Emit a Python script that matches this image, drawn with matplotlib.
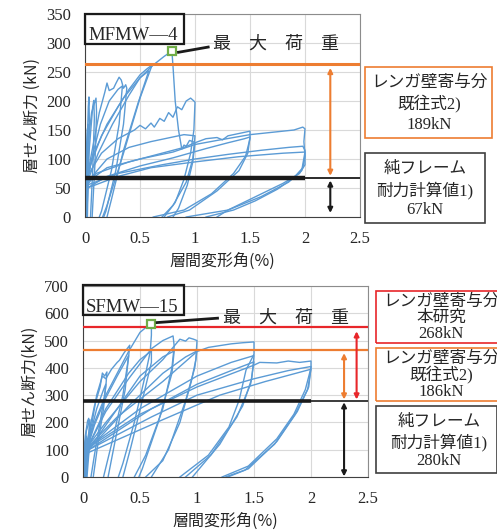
import matplotlib
matplotlib.use("Agg")
import matplotlib.pyplot as plt
from matplotlib.patches import Rectangle

# ---- data: MFMW-4 (top) ----
mf_name = "MFMW\u20144"
mf_frame = 67        # 純フレーム耐力計算値
mf_wall = 189        # レンガ壁寄与分 (既往式)
mf_total = 263       # drawn level of frame + wall
mf_peak = (0.79, 286)
mf_xticks = [0, 0.5, 1, 1.5, 2, 2.5]
mf_yticks = [0, 50, 100, 150, 200, 250, 300, 350]

mf_small = [
    [(-0.01, -60), (0.0, 0), (0.015, 90), (0.03, 190), (0.036, 207), (0.04, 160), (0.03, 60), (0.015, 0), (0.0, -50)],
    [(-0.01, -40), (0.01, 40), (0.04, 120), (0.07, 190), (0.08, 201), (0.085, 170), (0.07, 80), (0.05, 0), (0.03, -50)],
    [(0.0, -40), (0.01, 60), (0.03, 130), (0.06, 180), (0.1, 205), (0.105, 180), (0.09, 90), (0.065, 0)],
    [(0.0, -30), (0.005, 50), (0.01, 100), (0.02, 150), (0.03, 160), (0.025, 90), (0.015, 20), (0.01, -30)],
    [(0.0, -30), (0.004, 60), (0.012, 110), (0.02, 120), (0.016, 60), (0.008, 0)],
    [(0.002, -20), (0.006, 40), (0.01, 80), (0.016, 115), (0.022, 100), (0.018, 40), (0.012, -20)],
    [(0.005, -20), (0.012, 50), (0.02, 95), (0.028, 112), (0.03, 80), (0.024, 20), (0.02, -20)],
    [(0.001, -20), (0.003, 30), (0.008, 70), (0.014, 90), (0.012, 40), (0.006, -20)],
]
mf_loop03 = [
    [(-0.01, -60), (0.005, 40), (0.03, 80), (0.08, 130), (0.13, 180), (0.18, 215), (0.2, 231), (0.22, 218), (0.26, 222),
     (0.28, 230), (0.31, 241), (0.33, 236), (0.35, 222), (0.37, 228), (0.38, 222), (0.35, 160), (0.28, 80), (0.19, 10),
     (0.17, 0), (0.14, -40)],
    [(0.0, -50), (0.01, 50), (0.06, 100), (0.14, 160), (0.22, 200), (0.3, 220), (0.34, 226), (0.31, 160), (0.24, 80),
     (0.15, 10), (0.13, 0)],
]
mf_loop06 = [
    [(-0.01, -60), (0.01, 50), (0.05, 90), (0.15, 140), (0.3, 190), (0.4, 220), (0.5, 245), (0.56, 255), (0.61, 262),
     (0.5, 205), (0.35, 110), (0.2, 20), (0.16, 0), (0.12, -40)],
    [(0.0, -50), (0.02, 60), (0.12, 110), (0.25, 160), (0.4, 210), (0.5, 240), (0.58, 252), (0.48, 195), (0.35, 115),
     (0.24, 30), (0.2, 0)],
]
mf_loop08 = [
    [(-0.01, -60), (0.01, 60), (0.08, 110), (0.2, 160), (0.35, 205), (0.5, 240), (0.62, 262), (0.72, 277), (0.79, 286),
     (0.8, 260), (0.82, 200), (0.85, 150), (0.88, 117), (0.9, 124), (0.92, 122), (0.95, 132), (0.98, 130), (1.0, 128),
     (0.98, 95), (0.93, 55), (0.85, 15), (0.8, 0), (0.75, -30)],
]
mf_loop10 = [
    [(0.0, -50), (0.02, 70), (0.15, 110), (0.3, 135), (0.45, 150), (0.5, 158), (0.55, 152), (0.6, 162), (0.63, 155),
     (0.68, 170), (0.72, 165), (0.76, 180), (0.8, 172), (0.84, 190), (0.88, 185), (0.92, 200), (0.96, 205), (0.99, 200),
     (1.0, 198), (0.99, 150), (0.96, 110), (0.9, 65), (0.82, 25), (0.72, 0), (0.65, -30)],
    [(0.0, -50), (0.02, 60), (0.2, 100), (0.4, 120), (0.6, 130), (0.8, 138), (0.9, 142), (1.0, 140), (0.98, 100),
     (0.92, 60), (0.8, 20), (0.7, 0)],
]
mf_loop15 = [
    [(0.0, -40), (0.02, 55), (0.1, 75), (0.4, 95), (0.7, 110), (0.9, 120), (1.0, 128), (1.1, 135), (1.2, 137),
     (1.25, 133), (1.3, 140), (1.4, 144), (1.5, 148), (1.5, 135), (1.46, 105), (1.35, 75), (1.15, 40), (0.9, 12),
     (0.62, 0), (0.5, -20)],
    [(0.0, -40), (0.02, 50), (0.2, 70), (0.5, 88), (0.8, 102), (1.1, 118), (1.3, 128), (1.45, 135), (1.5, 138),
     (1.48, 110), (1.4, 80), (1.2, 45), (0.95, 12), (0.75, 0)],
]
mf_loop20 = [
    [(0.0, -40), (0.02, 60), (0.2, 85), (0.5, 100), (0.8, 112), (1.0, 125), (1.2, 132), (1.5, 142), (1.7, 146),
     (1.9, 150), (1.98, 155), (2.0, 152), (1.99, 130), (2.0, 105), (1.98, 85), (1.9, 68), (1.75, 48), (1.55, 28),
     (1.35, 12), (1.1, 0), (1.0, -15)],
    [(0.0, -40), (0.02, 55), (0.3, 75), (0.7, 90), (1.0, 100), (1.3, 108), (1.6, 115), (1.85, 120), (1.98, 122),
     (2.0, 115), (2.0, 90), (1.95, 75), (1.8, 58), (1.55, 35), (1.3, 12), (1.2, 0)],
    [(0.0, -40), (0.02, 50), (0.3, 70), (0.6, 85), (1.0, 95), (1.4, 104), (1.8, 110), (2.0, 112), (1.97, 80),
     (1.85, 60), (1.6, 35), (1.3, 12), (0.92, 0)],
]

# ---- data: SFMW-15 (bottom) ----
sf_name = "SFMW\u201415"
sf_frame = 280       # 純フレーム耐力計算値
sf_wall_old = 186    # 既往式
sf_wall_new = 268    # 本研究
sf_peak = (0.6, 562)
sf_xticks = [0, 0.5, 1, 1.5, 2, 2.5]
sf_yticks = [0, 100, 200, 300, 400, 500, 600, 700]

sf_small = [
    [(-0.01, -60), (0.005, 60), (0.02, 150), (0.04, 205), (0.05, 215), (0.055, 190), (0.045, 100), (0.03, 0), (0.02, -60)],
    [(0.0, -50), (0.01, 90), (0.03, 170), (0.06, 210), (0.065, 170), (0.05, 80), (0.035, 0)],
    [(0.0, -40), (0.005, 60), (0.015, 120), (0.03, 150), (0.025, 80), (0.015, 0)],
    [(0.002, -30), (0.008, 50), (0.014, 100), (0.022, 120), (0.02, 60), (0.012, -30)],
    [(0.004, -30), (0.012, 40), (0.024, 90), (0.034, 110), (0.03, 50), (0.022, -30)],
]
sf_loop02 = [
    [(-0.01, -60), (0.01, 70), (0.05, 160), (0.1, 260), (0.15, 330), (0.17, 381), (0.19, 370), (0.21, 385),
     (0.2, 330), (0.15, 200), (0.1, 80), (0.07, 0), (0.04, -80)],
    [(0.0, -50), (0.01, 60), (0.06, 150), (0.12, 250), (0.18, 320), (0.2, 340), (0.18, 250), (0.13, 120), (0.09, 0)],
]
sf_loop04 = [
    [(-0.01, -60), (0.02, 90), (0.08, 200), (0.12, 300), (0.17, 370), (0.2, 360), (0.25, 395), (0.3, 420), (0.32, 428),
     (0.36, 455), (0.41, 483), (0.4, 440), (0.35, 300), (0.25, 120), (0.18, 0), (0.14, -60)],
    [(0.0, -50), (0.02, 80), (0.1, 190), (0.2, 290), (0.3, 370), (0.38, 430), (0.4, 445), (0.37, 320), (0.29, 150),
     (0.22, 0)],
]
sf_loop06 = [
    [(-0.01, -60), (0.02, 90), (0.1, 200), (0.2, 300), (0.3, 380), (0.4, 460), (0.5, 530), (0.58, 558), (0.6, 565),
     (0.6, 520), (0.59, 460), (0.55, 380), (0.45, 200), (0.35, 50), (0.31, 0), (0.28, -60)],
    [(0.0, -50), (0.02, 90), (0.2, 250), (0.4, 380), (0.5, 430), (0.6, 462), (0.6, 420), (0.52, 280), (0.42, 110),
     (0.35, 0)],
]
sf_loop08 = [
    [(-0.01, -60), (0.02, 90), (0.2, 240), (0.4, 360), (0.6, 470), (0.7, 500), (0.79, 517), (0.8, 480), (0.78, 400),
     (0.7, 250), (0.55, 80), (0.45, 0), (0.4, -60)],
    [(0.0, -50), (0.05, 100), (0.3, 250), (0.5, 370), (0.7, 440), (0.8, 462), (0.78, 380), (0.66, 200), (0.52, 30),
     (0.49, 0)],
]
sf_loop10 = [
    [(-0.01, -60), (0.02, 100), (0.2, 200), (0.5, 350), (0.7, 430), (0.8, 480), (0.85, 505), (0.9, 498), (0.93, 510),
     (0.97, 505), (1.0, 500), (0.99, 430), (0.95, 350), (0.85, 200), (0.7, 60), (0.55, 0), (0.5, -40)],
    [(0.0, -50), (0.05, 100), (0.4, 260), (0.7, 380), (0.9, 440), (1.0, 462), (0.98, 400), (0.9, 280), (0.75, 100),
     (0.6, 0)],
]
sf_loop15 = [
    [(-0.01, -60), (0.02, 100), (0.3, 220), (0.7, 350), (1.0, 460), (1.1, 475), (1.3, 488), (1.4, 492), (1.5, 495),
     (1.5, 450), (1.43, 392), (1.37, 282), (1.28, 183), (1.1, 80), (0.85, 0), (0.75, -40)],
    [(0.0, -50), (0.05, 110), (0.5, 250), (1.0, 370), (1.3, 420), (1.5, 445), (1.48, 360), (1.4, 260), (1.2, 120),
     (0.96, 0)],
    [(0.0, -50), (0.05, 100), (0.6, 250), (1.0, 340), (1.3, 390), (1.5, 422), (1.47, 340), (1.35, 220), (1.12, 80),
     (0.9, 0)],
]
sf_loop20 = [
    [(-0.01, -60), (0.02, 100), (0.5, 230), (1.0, 330), (1.5, 410), (1.55, 420), (1.7, 418), (1.8, 425), (1.9, 420),
     (2.0, 425), (2.0, 400), (1.95, 320), (1.85, 230), (1.7, 140), (1.45, 40), (1.22, 0), (1.15, -20)],
    [(0.0, -50), (0.05, 100), (0.6, 220), (1.0, 300), (1.5, 360), (1.8, 390), (2.0, 405), (1.98, 330), (1.88, 240),
     (1.7, 130), (1.45, 30), (1.25, 0)],
    [(0.0, -50), (0.05, 90), (0.7, 210), (1.2, 300), (1.6, 350), (2.0, 395), (1.97, 320), (1.86, 230), (1.68, 120),
     (1.42, 25), (1.27, 0)],
]

BLUE = "#5B9BD5"
ORANGE = "#ED7D31"
RED = "#E8262A"
GREEN = "#70AD47"
TXT = "#262626"

W, H = 497, 530
jp = ["Noto Sans CJK JP", "DejaVu Sans"]
mixed = ["Liberation Serif", "Noto Sans CJK JP"]


def fx(px):
    return px / W


def fy(py):
    return 1 - py / H


def draw_loops(ax, groups):
    for grp in groups:
        for loop in grp:
            xs = [p[0] for p in loop]
            ys = [p[1] for p in loop]
            ax.plot(xs, ys, color=BLUE, lw=1.0, zorder=2)


def style_axes(ax, xticks, yticks):
    ax.set_xlim(0, 2.5)
    ax.set_ylim(0, yticks[-1])
    ax.set_xticks(xticks)
    ax.set_yticks(yticks)
    ax.set_xticklabels([("%g" % t) for t in xticks])
    ax.grid(True, color="#D9D9D9", lw=0.8, zorder=0)
    ax.set_axisbelow(True)
    ax.tick_params(length=0, labelsize=12, colors=TXT)
    ax.tick_params(axis="x", pad=10)
    ax.tick_params(axis="y", pad=10)
    for lab in ax.get_xticklabels() + ax.get_yticklabels():
        lab.set_family("Liberation Serif")
    for s in ["top", "right"]:
        ax.spines[s].set_color("#8C8C8C")
    for s in ["left", "bottom"]:
        ax.spines[s].set_color("#404040")


def fig_box(fig, x0, y0, x1, y1, color, lw=1.2):
    fig.patches.append(Rectangle((fx(x0), fy(y1)), fx(x1) - fx(x0), fy(y0) - fy(y1),
                                 transform=fig.transFigure, fill=False, edgecolor=color,
                                 lw=lw, clip_on=False, zorder=5))


def fig_lines(fig, cx, ys, texts, size=12):
    for y, t in zip(ys, texts):
        fig.text(fx(cx), fy(y), t, ha="center", va="center", fontsize=size,
                 family=mixed, color=TXT)


def darrow(ax, x, y0, y1, color):
    ax.annotate("", xy=(x, y0), xytext=(x, y1),
                arrowprops=dict(arrowstyle="<|-|>", color=color, lw=1.5,
                                mutation_scale=7, shrinkA=0, shrinkB=0),
                annotation_clip=False)


fig = plt.figure(figsize=(W / 100, H / 100), dpi=100)

# ---------------- top panel ----------------
ax1 = fig.add_axes([fx(85), fy(217), fx(360) - fx(85), fy(14) - fy(217)])
style_axes(ax1, mf_xticks, mf_yticks)
draw_loops(ax1, [mf_small, mf_loop03, mf_loop06, mf_loop08, mf_loop10, mf_loop15, mf_loop20])
ax1.axhline(mf_total, color=ORANGE, lw=2.2, zorder=3)
ax1.plot([0, 2.0], [mf_frame, mf_frame], color="#1A1A1A", lw=3.2, zorder=3, solid_capstyle="butt")
ax1.axhline(mf_frame, color="#1A1A1A", lw=1.3, zorder=3)
darrow(ax1, 2.23, mf_frame + 4, mf_total - 6, ORANGE)
darrow(ax1, 2.23, 7, mf_frame - 4, "#1A1A1A")
ax1.plot(*mf_peak, marker="s", ms=6, mfc="white", mec=GREEN, mew=1.6, zorder=6)
ax1.plot([0.85, 1.12], [284, 293], color="#1A1A1A", lw=2, zorder=6)
ax1.set_ylabel("層せん断力 (kN)", family=jp, fontsize=11.5, color=TXT, labelpad=4)
ax1.set_xlabel("層間変形角(%)", family=jp, fontsize=11.5, color=TXT, labelpad=4)

fig_box(fig, 85, 14, 184, 44, "#1A1A1A", lw=1.6)
fig.text(fx(133), fy(36), mf_name, ha="center", va="center", fontsize=13.5,
         family="Liberation Serif", color=TXT)
fig.text(fx(276), fy(44), "最　大　荷　重", ha="center", va="center", fontsize=13,
         family=jp, color=TXT)

fig_box(fig, 365, 67, 492, 138, ORANGE)
fig_lines(fig, 429, [83, 104, 125], ["レンガ壁寄与分", "既往式2)", "%dkN" % mf_wall])
fig_box(fig, 365, 153, 485, 223, "#404040")
fig_lines(fig, 425, [169, 190, 210], ["純フレーム", "耐力計算値1)", "%dkN" % mf_frame])

# ---------------- bottom panel ----------------
ax2 = fig.add_axes([fx(83), fy(477), fx(368) - fx(83), fy(286) - fy(477)])
style_axes(ax2, sf_xticks, sf_yticks)
draw_loops(ax2, [sf_small, sf_loop02, sf_loop04, sf_loop06, sf_loop08, sf_loop10, sf_loop15, sf_loop20])
ax2.axhline(sf_frame + sf_wall_new, color=RED, lw=1.6, zorder=3)
ax2.axhline(sf_frame + sf_wall_old, color=ORANGE, lw=1.6, zorder=3)
ax2.plot([0, 2.0], [sf_frame, sf_frame], color="#1A1A1A", lw=2.6, zorder=3, solid_capstyle="butt")
ax2.axhline(sf_frame, color="#1A1A1A", lw=1.2, zorder=3)
darrow(ax2, 2.29, sf_frame + 4, sf_frame + sf_wall_old - 12, ORANGE)
darrow(ax2, 2.40, sf_frame + 4, sf_frame + sf_wall_new - 14, RED)
darrow(ax2, 2.29, 2, sf_frame - 6, "#1A1A1A")
ax2.plot(*sf_peak, marker="s", ms=6, mfc="white", mec=GREEN, mew=1.6, zorder=6)
ax2.plot([0.65, 1.18], [566, 582], color="#1A1A1A", lw=2, zorder=6)
ax2.set_ylabel("層せん断力(kN)", family=jp, fontsize=11.5, color=TXT, labelpad=4)
ax2.set_xlabel("層間変形角(%)", family=jp, fontsize=11.5, color=TXT, labelpad=4)

fig_box(fig, 83, 285, 184, 315, "#1A1A1A", lw=1.6)
fig.text(fx(132), fy(307), sf_name, ha="center", va="center", fontsize=13.5,
         family="Liberation Serif", color=TXT)
fig.text(fx(286), fy(318), "最　大　荷　重", ha="center", va="center", fontsize=13,
         family=jp, color=TXT)

fig_box(fig, 376, 291, 505, 343, RED)
fig_lines(fig, 441, [302, 318, 334], ["レンガ壁寄与分", "本研究", "%dkN" % sf_wall_new])
fig_box(fig, 376, 348, 505, 401, ORANGE)
fig_lines(fig, 441, [359, 375, 392], ["レンガ壁寄与分", "既往式2)", "%dkN" % sf_wall_old])
fig_box(fig, 376, 406, 497, 473, "#404040")
fig_lines(fig, 439, [422, 442, 461], ["純フレーム", "耐力計算値1)", "%dkN" % sf_frame])

fig.savefig("out.png", dpi=100)
